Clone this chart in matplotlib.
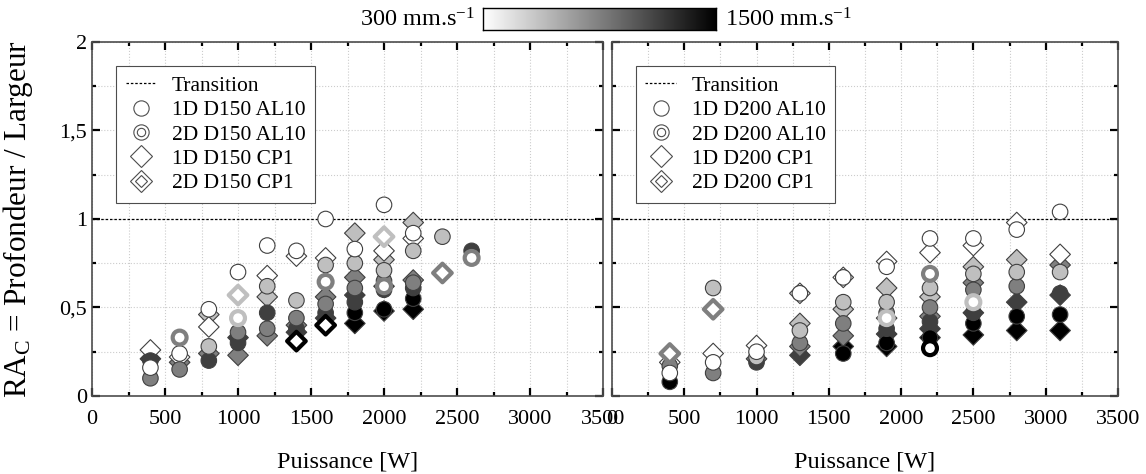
import numpy as np
import matplotlib
matplotlib.use("Agg")
import matplotlib.pyplot as plt
from matplotlib.colors import Normalize
from matplotlib.lines import Line2D
from matplotlib.legend_handler import HandlerTuple
from matplotlib.ticker import MultipleLocator, FuncFormatter

plt.rcParams['font.family'] = ['Liberation Serif', 'DejaVu Serif']
plt.rcParams['mathtext.fontset'] = 'custom'
plt.rcParams['mathtext.rm'] = 'Liberation Serif'
plt.rcParams['mathtext.it'] = 'Liberation Serif:italic'

# ---- data: power [W], speed [mm/s], aspect ratio ----
# left panel, D150
d150_1d_al_P = [400, 400, 400, 600, 600, 800, 800, 800, 1000, 1000, 1000, 1200, 1200, 1200, 1200,
                1400, 1400, 1400, 1400, 1600, 1600, 1600, 1600, 1800, 1800, 1800, 1800, 1800,
                2000, 2000, 2000, 2000, 2000, 2200, 2200, 2200, 2200, 2200, 2400, 2600]
d150_1d_al_v = [900, 1200, 300, 900, 300, 1200, 600, 300, 1200, 900, 300, 900, 1200, 600, 300,
                1200, 900, 600, 300, 1200, 900, 600, 300, 1500, 1200, 900, 600, 300,
                1500, 1200, 900, 600, 300, 1500, 1200, 900, 600, 300, 600, 1200]
d150_1d_al_r = [0.10, 0.20, 0.16, 0.15, 0.24, 0.20, 0.28, 0.49, 0.30, 0.36, 0.70, 0.38, 0.47, 0.62, 0.85,
                0.38, 0.44, 0.54, 0.82, 0.47, 0.52, 0.74, 1.00, 0.47, 0.53, 0.61, 0.75, 0.83,
                0.49, 0.60, 0.65, 0.71, 1.08, 0.55, 0.61, 0.64, 0.82, 0.92, 0.90, 0.82]

d150_2d_al_P = [600, 1000, 1600, 2000, 2600]
d150_2d_al_v = [900, 600, 900, 900, 900]
d150_2d_al_r = [0.33, 0.44, 0.645, 0.62, 0.78]

d150_1d_cp_P = [400, 400, 600, 600, 800, 800, 800, 1000, 1000, 1200, 1200, 1200,
                1400, 1400, 1400, 1600, 1600, 1600, 1800, 1800, 1800, 1800,
                2000, 2000, 2000, 2000, 2200, 2200, 2200, 2200]
d150_1d_cp_v = [1200, 300, 900, 300, 900, 600, 300, 900, 1200, 900, 600, 300,
                1200, 900, 300, 1200, 900, 300, 1500, 1200, 900, 600,
                1500, 1200, 600, 300, 1500, 900, 300, 600]
d150_1d_cp_r = [0.21, 0.26, 0.19, 0.22, 0.24, 0.46, 0.39, 0.23, 0.33, 0.34, 0.56, 0.68,
                0.36, 0.40, 0.79, 0.44, 0.56, 0.78, 0.41, 0.57, 0.67, 0.92,
                0.48, 0.62, 0.77, 0.82, 0.49, 0.655, 0.89, 0.98]

d150_2d_cp_P = [1000, 1400, 1600, 2000, 2400]
d150_2d_cp_v = [600, 1500, 1500, 600, 900]
d150_2d_cp_r = [0.57, 0.31, 0.40, 0.90, 0.695]

# right panel, D200
d200_1d_al_P = [400, 400, 400, 700, 700, 700, 1000, 1000, 1000, 1300, 1300, 1300,
                1600, 1600, 1600, 1600, 1900, 1900, 1900, 1900, 1900,
                2200, 2200, 2200, 2200, 2200, 2500, 2500, 2500, 2500, 2500,
                2800, 2800, 2800, 2800, 3100, 3100, 3100, 3100]
d200_1d_al_v = [1500, 900, 300, 900, 300, 600, 1200, 600, 300, 900, 600, 300,
                1500, 900, 600, 300, 1500, 1200, 900, 600, 300,
                1500, 1200, 900, 600, 300, 1500, 1200, 900, 600, 300,
                1500, 900, 600, 300, 1500, 1200, 600, 300]
d200_1d_al_r = [0.08, 0.17, 0.13, 0.13, 0.19, 0.61, 0.19, 0.22, 0.25, 0.30, 0.37, 0.58,
                0.24, 0.41, 0.53, 0.67, 0.30, 0.38, 0.47, 0.53, 0.73,
                0.33, 0.42, 0.50, 0.61, 0.89, 0.41, 0.47, 0.60, 0.69, 0.89,
                0.45, 0.62, 0.70, 0.94, 0.46, 0.58, 0.70, 1.04]

d200_2d_al_P = [1900, 2200, 2200, 2500]
d200_2d_al_v = [600, 900, 1500, 600]
d200_2d_al_r = [0.44, 0.69, 0.27, 0.53]

d200_1d_cp_P = [400, 700, 1000, 1000, 1300, 1300, 1300, 1300, 1600, 1600, 1600, 1600,
                1900, 1900, 1900, 1900, 1900, 2200, 2200, 2200, 2200, 2200,
                2500, 2500, 2500, 2500, 2500, 2800, 2800, 2800, 2800, 3100, 3100, 3100, 3100]
d200_1d_cp_v = [300, 300, 900, 300, 1200, 900, 600, 300, 1500, 900, 600, 300,
                1500, 1200, 900, 600, 300, 1500, 1200, 900, 600, 300,
                1500, 1200, 900, 600, 300, 1500, 1200, 600, 300, 1500, 1200, 900, 300]
d200_1d_cp_r = [0.19, 0.24, 0.21, 0.285, 0.23, 0.28, 0.41, 0.58, 0.28, 0.34, 0.49, 0.67,
                0.28, 0.35, 0.44, 0.61, 0.76, 0.33, 0.38, 0.45, 0.56, 0.81,
                0.345, 0.47, 0.64, 0.73, 0.85, 0.37, 0.53, 0.77, 0.98, 0.37, 0.57, 0.74, 0.80]

d200_2d_cp_P = [400, 700]
d200_2d_cp_v = [900, 900]
d200_2d_cp_r = [0.24, 0.49]

v_min, v_max = 300, 1500
cmap = plt.get_cmap('gray_r')
norm = Normalize(v_min, v_max)

fig = plt.figure(figsize=(11.46, 4.74), dpi=100)
ax1 = fig.add_axes([0.0803, 0.1646, 0.4459, 0.7468])
ax2 = fig.add_axes([0.5340, 0.1646, 0.4415, 0.7468])

panels = [
    (ax1, '150',
     (d150_1d_al_P, d150_1d_al_v, d150_1d_al_r), (d150_2d_al_P, d150_2d_al_v, d150_2d_al_r),
     (d150_1d_cp_P, d150_1d_cp_v, d150_1d_cp_r), (d150_2d_cp_P, d150_2d_cp_v, d150_2d_cp_r)),
    (ax2, '200',
     (d200_1d_al_P, d200_1d_al_v, d200_1d_al_r), (d200_2d_al_P, d200_2d_al_v, d200_2d_al_r),
     (d200_1d_cp_P, d200_1d_cp_v, d200_1d_cp_r), (d200_2d_cp_P, d200_2d_cp_v, d200_2d_cp_r)),
]

comma = FuncFormatter(lambda y, pos: ('%g' % y).replace('.', ','))

for ax, dia, al1, al2, cp1, cp2 in panels:
    ax.axhline(1, color='black', ls=(0, (2, 1.5)), lw=0.9, zorder=2)

    # filled markers (1D)
    for (P, v, r), mk, s in [(cp1, 'D', 110), (al1, 'o', 125)]:
        ax.scatter(P, r, c=cmap(norm(np.array(v))), marker=mk, s=s,
                   edgecolors='0.25', linewidths=0.8, zorder=3)
    # ring markers (2D)
    for (P, v, r), mk, s in [(cp2, 'D', 90), (al2, 'o', 100)]:
        ax.scatter(P, r, facecolors='white', marker=mk, s=s,
                   edgecolors=cmap(norm(np.array(v))), linewidths=3, zorder=4)

    ax.set_xlim(0, 3500)
    ax.set_ylim(0, 2)
    ax.xaxis.set_major_locator(MultipleLocator(500))
    ax.xaxis.set_minor_locator(MultipleLocator(250))
    ax.yaxis.set_major_locator(MultipleLocator(0.5))
    ax.yaxis.set_minor_locator(MultipleLocator(0.25))
    ax.yaxis.set_major_formatter(comma)
    ax.grid(True, which='both', color='0.8', ls=':', lw=0.8)
    ax.set_axisbelow(True)
    ax.tick_params(which='both', direction='in', top=True, right=True, labelsize=16, width=1.6)
    ax.tick_params(axis='x', pad=10)
    ax.tick_params(which='major', length=6)
    ax.tick_params(which='minor', length=3)
    for sp in ax.spines.values():
        sp.set_color('0.3')
        sp.set_linewidth(1.2)
    ax.set_xlabel('Puissance [W]', fontsize=17.5, labelpad=16)

    handles = [
        Line2D([], [], color='black', ls=(0, (2, 1.5)), lw=0.9),
        Line2D([], [], marker='o', ls='', ms=11, mfc='white', mec='0.3', mew=0.8),
        (Line2D([], [], marker='o', ls='', ms=11, mfc='white', mec='0.3', mew=0.8),
         Line2D([], [], marker='o', ls='', ms=6, mfc='white', mec='0.3', mew=0.8)),
        Line2D([], [], marker='D', ls='', ms=11, mfc='white', mec='0.3', mew=0.8),
        (Line2D([], [], marker='D', ls='', ms=11, mfc='white', mec='0.3', mew=0.8),
         Line2D([], [], marker='D', ls='', ms=6, mfc='white', mec='0.3', mew=0.8)),
    ]
    labels = ['Transition', '1D D%s AL10' % dia, '2D D%s AL10' % dia,
              '1D D%s CP1' % dia, '2D D%s CP1' % dia]
    leg = ax.legend(handles, labels, loc='upper left', bbox_to_anchor=(0.047, 0.932),
                    fontsize=15.5, handler_map={tuple: HandlerTuple(ndivide=1, pad=0)},
                    frameon=True, fancybox=False, edgecolor='0.3', framealpha=1,
                    handlelength=1.4, handletextpad=0.75, labelspacing=0.2,
                    borderpad=0.45, borderaxespad=0)
    leg.get_frame().set_linewidth(0.8)

ax1.set_ylabel(r'RA$_\mathregular{C}$ = Profondeur / Largeur', fontsize=22.5)
ax1.yaxis.set_label_coords(-0.112, 0.5)
ax2.tick_params(labelleft=False)

# colorbar for scanning speed
cax = fig.add_axes([0.4215, 0.937, 0.2035, 0.046])
grad = np.linspace(v_min, v_max, 256).reshape(1, -1)
cax.imshow(grad, aspect='auto', cmap=cmap, norm=norm, extent=[v_min, v_max, 0, 1])
cax.set_xticks([])
cax.set_yticks([])
for sp in cax.spines.values():
    sp.set_linewidth(1.0)
fig.text(0.414, 0.958, r'300 mm.s$^\mathregular{-1}$', ha='right', va='center', fontsize=17.5)
fig.text(0.633, 0.958, r'1500 mm.s$^\mathregular{-1}$', ha='left', va='center', fontsize=17.5)

fig.savefig('out.png', dpi=100)
